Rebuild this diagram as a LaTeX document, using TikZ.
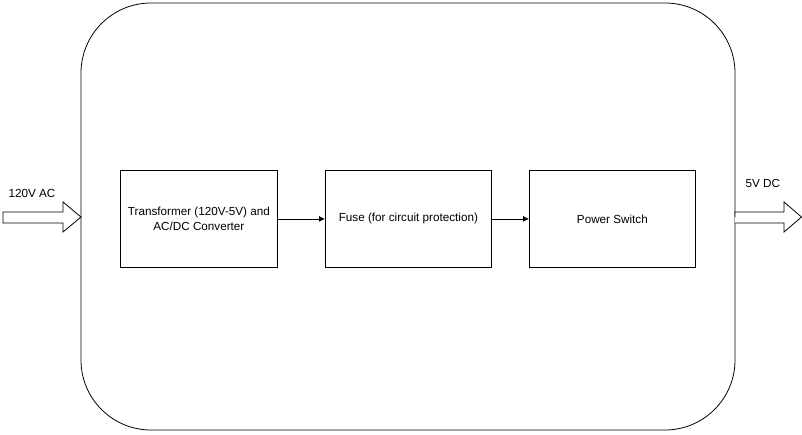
\documentclass[tikz,border=0pt]{standalone}
\usepackage{fontspec}
\setmainfont{Liberation Sans}
\usetikzlibrary{arrows.meta}
\begin{document}
\begin{tikzpicture}[x=1pt,y=-1pt,
  every node/.style={font=\fontsize{11.7}{14.5}\selectfont},
  blk/.style={draw=black,line width=0.8pt,minimum width=157pt,minimum height=97pt,inner sep=0pt,align=center,anchor=north west},
  conn/.style={draw=black,line width=0.8pt,-{Latex[length=6pt,width=6pt]}},
  barrow/.style={draw=black,line width=0.8pt,fill=white,line join=miter}]
\useasboundingbox (0,0) rectangle (802,434);
% container
\draw[line width=0.8pt,rounded corners=70pt] (81,3) rectangle (735,430);
\coordinate (cw) at (81,217);
\coordinate (ce) at (735,217);
% blocks
\node[blk] (b1) at (120,170) {Transformer (120V-5V) and\\AC/DC Converter};
\node[blk,minimum width=166pt] (b2) at (325,170) {Fuse (for circuit protection)};
\node[blk,minimum width=166pt] (b3) at (529,170) {Power Switch};
\draw[conn] (b1.east) -- (b2.west);
\draw[conn] (b2.east) -- (b3.west);
% input block arrow
\draw[barrow] (3,212) -- (63,212) -- (63,202) -- (cw) -- (63,232) -- (63,223) -- (3,223) -- cycle;
\node[anchor=west] (lin) at (5,193) {120V AC};
% output block arrow
\draw[barrow] (ce) |- (735,212) -- (784,212) -- (784,202) -- (801.5,217) -- (784,232) -- (784,223) -- (735,223);
\node[anchor=west] (lout) at (742,183) {5V DC};
\end{tikzpicture}
\end{document}
